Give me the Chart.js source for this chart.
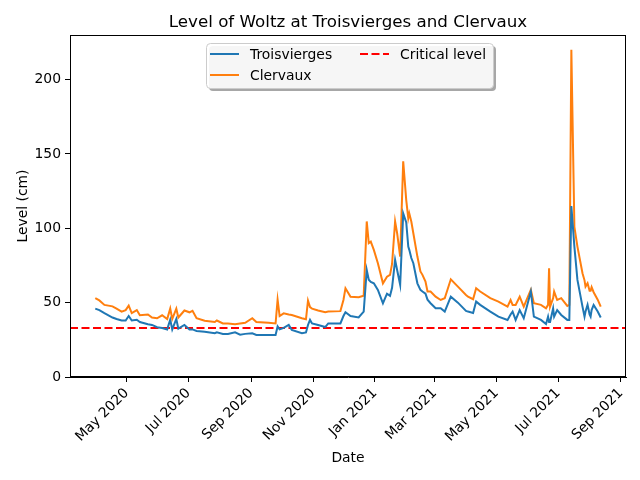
<!DOCTYPE html>
<html>
<head>
<meta charset="utf-8">
<script src="https://cdn.jsdelivr.net/npm/chart.js@4.4.1/dist/chart.umd.min.js"></script>
<style>
  html, body { margin: 0; padding: 0; background: #fff; }
  canvas { display: block; }
</style>
</head>
<body>
<canvas id="woltzChart" width="640" height="480"></canvas>
<script>
// readings, one row per sampled date
const dates = [
    '2020-03-31', '2020-04-04', '2020-04-09', '2020-04-17', '2020-04-21', '2020-04-26', '2020-04-30',
    '2020-05-03', '2020-05-06', '2020-05-11', '2020-05-14', '2020-05-22', '2020-05-26', '2020-05-31',
    '2020-06-05', '2020-06-10', '2020-06-13', '2020-06-15', '2020-06-19', '2020-06-21', '2020-06-27',
    '2020-07-02', '2020-07-05', '2020-07-09', '2020-07-17', '2020-07-27', '2020-07-29',
    '2020-08-04', '2020-08-09', '2020-08-16', '2020-08-21', '2020-08-26',
    '2020-09-02', '2020-09-06', '2020-09-18', '2020-09-25', '2020-09-27', '2020-09-29',
    '2020-10-03', '2020-10-08', '2020-10-11', '2020-10-21', '2020-10-25', '2020-10-27', '2020-10-29', '2020-10-31',
    '2020-11-06', '2020-11-13', '2020-11-16', '2020-11-28',
    '2020-12-01', '2020-12-03', '2020-12-08', '2020-12-16', '2020-12-21', '2020-12-24', '2020-12-26', '2020-12-28', '2020-12-31',
    '2021-01-04', '2021-01-09', '2021-01-13', '2021-01-16', '2021-01-18', '2021-01-21', '2021-01-23', '2021-01-26', '2021-01-29',
    '2021-02-01', '2021-02-03', '2021-02-04', '2021-02-06', '2021-02-08', '2021-02-12', '2021-02-15', '2021-02-17',
    '2021-02-20', '2021-02-22', '2021-02-25',
    '2021-03-02', '2021-03-07', '2021-03-11', '2021-03-17', '2021-03-24',
    '2021-04-01', '2021-04-03', '2021-04-08', '2021-04-11', '2021-04-15', '2021-04-25',
    '2021-05-03', '2021-05-12', '2021-05-15', '2021-05-17', '2021-05-20', '2021-05-24', '2021-05-28',
    '2021-06-04', '2021-06-07', '2021-06-14', '2021-06-19', '2021-06-21', '2021-06-22', '2021-06-23',
    '2021-06-26', '2021-06-27', '2021-06-30',
    '2021-07-04', '2021-07-10', '2021-07-12', '2021-07-14', '2021-07-17', '2021-07-20', '2021-07-25',
    '2021-07-27', '2021-07-28', '2021-07-30',
    '2021-08-01', '2021-08-02', '2021-08-03', '2021-08-05', '2021-08-09', '2021-08-12'
];

const troisvierges = [
    46, 45, 43, 40, 39, 38, 38,
    41, 38, 38.5, 37, 35.5, 35, 33.5,
    33, 32, 38.5, 32, 39, 32.5, 35,
    32, 32, 31, 30.5, 29.4, 30,
    29, 29, 30, 28.5, 29,
    29.4, 28.3, 28.3, 28.3, 34, 32,
    33, 35, 31.6, 29.4, 30, 35, 38.4, 36,
    35, 33.6, 36, 36,
    41, 43.6, 41, 40, 44, 72, 65.4, 64, 63,
    58.6, 49.6, 56, 54.6, 60, 78.8, 72, 62, 110,
    104, 87.7, 85.5, 80, 76.5, 63, 58.6, 57.5,
    56, 52, 49.6,
    46.2, 46.2, 44, 54, 50,
    44.5, 44, 43, 50.7, 48.5, 44,
    40.6, 38.4, 42, 44, 38.4, 45, 39.5,
    57.5, 40.6, 38.4, 35.7, 40.6, 37, 37,
    46.2, 40.6, 45,
    41.7, 38.4, 38.4, 115, 87.7, 65.3, 47.3,
    40.6, 44, 48.5,
    42, 40.6, 45, 48.5, 44, 40
];

const clervaux = [
    53, 51.5, 48.5, 47.5, 46, 44, 45,
    48, 43, 45, 41.5, 42, 40, 39.5,
    41.5, 39, 46, 39, 46, 40, 44.7,
    43.5, 44.5, 39.5, 37.8, 37, 38,
    36, 36, 35.5, 36, 36.5,
    39.5, 37, 36.5, 36, 52, 41,
    42.8, 42, 41.7, 39.5, 38.8, 51.4, 47, 46,
    44.7, 43.6, 44, 44.3,
    51.8, 59.7, 54, 53.7, 54.7, 104.6, 90, 91, 85.5,
    76.5, 63, 67.5, 68.7, 76, 104.6, 96.7, 81, 145,
    119, 106.8, 110, 104.6, 96.7, 81, 71, 68.7,
    64.2, 57.5, 57.5,
    54, 51.8, 53, 65.7, 60.8,
    55.2, 54, 52.3, 59.7, 57.5, 53,
    50.7, 47.3, 51.8, 48.5, 48.5, 54, 47.3,
    58.6, 49.6, 48.5, 46.2, 48.5, 73.2, 47.3,
    53, 57.5, 51.8,
    53, 47.8, 48.5, 220, 101, 87.7, 69.8,
    65, 60.8, 63,
    58, 58, 60.4, 57, 52, 47.3
];

const criticalLevel = 33;
const monthNames = ['Jan', 'Feb', 'Mar', 'Apr', 'May', 'Jun', 'Jul', 'Aug', 'Sep', 'Oct', 'Nov', 'Dec'];
const xTickDates = ['2020-05-01', '2020-07-01', '2020-09-01', '2020-11-01', '2021-01-01',
    '2021-03-01', '2021-05-01', '2021-07-01', '2021-09-01'];
const yTickValues = [0, 50, 100, 150, 200];

const FONT = 'DejaVu Sans';
const BLUE = '#1f77b4';
const ORANGE = '#ff7f0e';

function toTime(s) {
    const [y, m, d] = s.split('-').map(Number);
    return Date.UTC(y, m - 1, d);
}

const times = dates.map(toTime);
const span = times[times.length - 1] - times[0];
const xMin = times[0] - span * 0.05;
const xMax = times[times.length - 1] + span * 0.05;

// frame, title, axis labels and the boxed legend, drawn the matplotlib way
const decorPlugin = {
    id: 'decor',
    afterDraw(chart) {
        const ctx = chart.ctx;
        const a = chart.chartArea;
        ctx.save();

        ctx.strokeStyle = '#000';
        ctx.lineWidth = 1;
        ctx.strokeRect(a.left + 0.5, a.top + 0.5, a.right - a.left - 1, a.bottom - a.top - 1);

        ctx.fillStyle = '#000';
        ctx.textAlign = 'center';
        ctx.textBaseline = 'alphabetic';
        ctx.font = '16.7px "' + FONT + '"';
        ctx.fillText('Level of Woltz at Troisvierges and Clervaux', (a.left + a.right) / 2, a.top - 8);

        ctx.font = '13.9px "' + FONT + '"';
        ctx.fillText('Date', (a.left + a.right) / 2, 462);
        ctx.save();
        ctx.translate(27, (a.top + a.bottom) / 2);
        ctx.rotate(-Math.PI / 2);
        ctx.fillText('Level (cm)', 0, 0);
        ctx.restore();

        // legend
        const bx = 206, by = 43, bw = 287, bh = 45;
        ctx.fillStyle = 'rgba(80,80,80,0.5)';
        ctx.beginPath();
        ctx.roundRect(bx + 3, by + 3, bw, bh, 4);
        ctx.fill();
        ctx.fillStyle = 'rgba(255,255,255,0.9)';
        ctx.strokeStyle = '#cccccc';
        ctx.beginPath();
        ctx.roundRect(bx + 0.5, by + 0.5, bw, bh, 4);
        ctx.fill();
        ctx.stroke();

        const entries = [
            { ds: chart.data.datasets[0], x: 210, y: 54 },
            { ds: chart.data.datasets[1], x: 210, y: 75 },
            { ds: chart.data.datasets[2], x: 360, y: 54 }
        ];
        ctx.textAlign = 'left';
        ctx.textBaseline = 'middle';
        entries.forEach(e => {
            ctx.strokeStyle = e.ds.borderColor;
            ctx.lineWidth = 2;
            ctx.setLineDash(e.ds.borderDash || []);
            ctx.beginPath();
            ctx.moveTo(e.x, e.y);
            ctx.lineTo(e.x + 29, e.y);
            ctx.stroke();
            ctx.setLineDash([]);
            ctx.fillStyle = '#000';
            ctx.fillText(e.ds.label, e.x + 40, e.y + 1);
        });

        ctx.restore();
    }
};

new Chart(document.getElementById('woltzChart'), {
    type: 'line',
    data: {
        datasets: [
            {
                label: 'Troisvierges',
                data: times.map((t, i) => ({ x: t, y: troisvierges[i] })),
                borderColor: BLUE,
                borderWidth: 2,
                pointRadius: 0,
                tension: 0
            },
            {
                label: 'Clervaux',
                data: times.map((t, i) => ({ x: t, y: clervaux[i] })),
                borderColor: ORANGE,
                borderWidth: 2,
                pointRadius: 0,
                tension: 0
            },
            {
                label: 'Critical level',
                data: [{ x: xMin, y: criticalLevel }, { x: xMax, y: criticalLevel }],
                borderColor: '#ff0000',
                borderWidth: 2,
                borderDash: [8, 3.5],
                pointRadius: 0
            }
        ]
    },
    options: {
        responsive: false,
        devicePixelRatio: 1,
        animation: false,
        layout: { padding: { top: 35, right: 14, left: 0, bottom: 0 } },
        plugins: {
            legend: { display: false },
            title: { display: false },
            tooltip: { enabled: false }
        },
        scales: {
            x: {
                type: 'linear',
                min: xMin,
                max: xMax,
                afterFit: s => { s.height = 103; },
                afterBuildTicks: s => { s.ticks = xTickDates.map(d => ({ value: toTime(d) })); },
                grid: { drawOnChartArea: false, drawTicks: true, tickLength: 5, color: '#000' },
                border: { display: true, color: '#000' },
                ticks: {
                    color: '#000',
                    font: { family: FONT, size: 13.9 },
                    minRotation: 45,
                    maxRotation: 45,
                    padding: 3,
                    autoSkip: false,
                    callback: v => {
                        const d = new Date(v);
                        return monthNames[d.getUTCMonth()] + ' ' + d.getUTCFullYear();
                    }
                }
            },
            y: {
                min: 0,
                max: 230,
                afterFit: s => { s.width = 70; },
                afterBuildTicks: s => { s.ticks = yTickValues.map(v => ({ value: v })); },
                grid: { drawOnChartArea: false, drawTicks: true, tickLength: 5, color: '#000' },
                border: { display: true, color: '#000' },
                ticks: {
                    color: '#000',
                    font: { family: FONT, size: 13.9 },
                    padding: 4
                }
            }
        }
    },
    plugins: [decorPlugin]
});
</script>
</body>
</html>
